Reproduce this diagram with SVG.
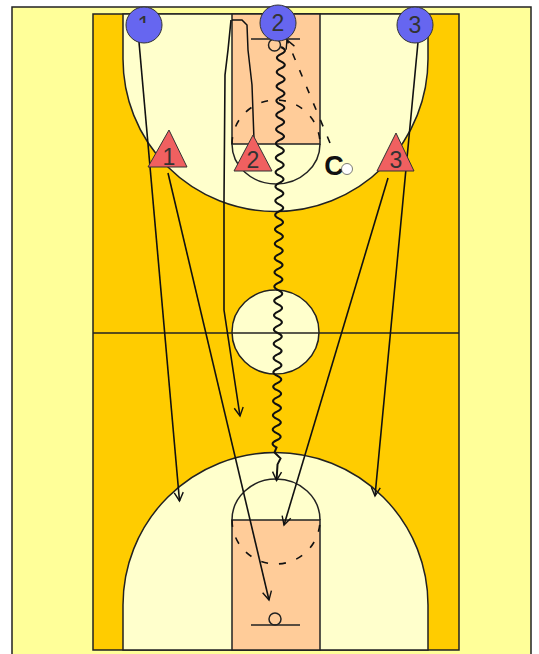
<svg xmlns="http://www.w3.org/2000/svg" width="539" height="654" viewBox="0 0 539 654">
<style>
.c{stroke:#222;stroke-width:1.5}
.l{fill:none;stroke:#222;stroke-width:1.5}
.d{fill:none;stroke:#111;stroke-width:1.6;stroke-dasharray:7 11}
.a{fill:none;stroke:#111;stroke-width:1.6;marker-end:url(#ah)}
.w{fill:none;stroke:#111;stroke-width:2;marker-end:url(#ah)}
.t{font-family:"Liberation Sans",Arial,sans-serif;font-size:23px;fill:#333;text-anchor:middle}
.p{fill:#6666f0;stroke:#333;stroke-width:1}
.x{fill:#f06060;stroke:#333;stroke-width:1}
</style>
<defs>
<marker id="ah" markerWidth="14" markerHeight="14" refX="10" refY="6" orient="auto" markerUnits="userSpaceOnUse">
<path d="M1.5 1.5L10 6L1.5 10.5" fill="none" stroke="#111" stroke-width="1.4"/>
</marker>
<clipPath id="stub"><rect x="135" y="14" width="20" height="9"/></clipPath>
</defs>
<rect width="539" height="654" fill="#fff"/>
<rect x="12" y="7" width="519" height="655" fill="#ffff99" stroke="#222" stroke-width="1.5"/>
<g id="court">
<rect class="c" x="93" y="14" width="366" height="636" fill="#ffcc00"/>
<path class="c" d="M123 14V59A152.500 152.500 0 0 0 428 59V14Z" fill="#ffffcc"/>
<path class="c" d="M123 650V605A152.500 152.500 0 0 1 428 605V650Z" fill="#ffffcc"/>
<rect class="c" x="232" y="14" width="88" height="130" fill="#ffcc99"/>
<rect class="c" x="232" y="520" width="88" height="130" fill="#ffcc99"/>
<ellipse class="c" cx="275.500" cy="332" rx="43.500" ry="42" fill="#ffffcc"/>
<path class="l" d="M93 333H459"/>
<path class="l" d="M232 144A44 40 0 0 0 320 144"/>
<path class="d" d="M232 144A44 44 0 0 1 320 144"/>
<path class="l" d="M232 520A44 41 0 0 1 320 520"/>
<path class="d" d="M232 520A44 44 0 0 0 320 520"/>
<path class="l" d="M251 39H300M251 625H300"/>
<circle class="l" cx="274.500" cy="45" r="6"/>
<circle class="l" cx="275" cy="619" r="6"/>
</g>
<g id="connectors">
<path class="a" d="M139 42L179.500 501"/>
<path class="a" d="M168 173L269 600"/>
<path class="l" style="stroke:#111" d="M232 20H242L247 25L248 50L252 85L254 140"/>
<path class="a" d="M231 20L228 50L225 75L224 200V310L240 416"/>
<path class="a" d="M418 42L375 496"/>
<path class="a" d="M388 178L284 525"/>
<path class="d" d="M330 143L287 40" marker-end="url(#ah)"/>
<path class="w" d="M281 47q8 3.580 -.08 7.150t-.08 7.150q8 3.580 -.08 7.150t-.08 7.150q8 3.580 -.08 7.150t-.08 7.150q8 3.580 -.08 7.150t-.08 7.150q8 3.580 -.08 7.150t-.08 7.150q8 3.580 -.08 7.150t-.08 7.150q8 3.580 -.08 7.150t-.08 7.150q8 3.580 -.08 7.150t-.08 7.150q8 3.580 -.08 7.150t-.08 7.150q8 3.580 -.08 7.150t-.08 7.150q8 3.580 -.08 7.150t-.08 7.150q8 3.580 -.08 7.150t-.08 7.150q8 3.580 -.08 7.150t-.08 7.150q8 3.580 -.08 7.150t-.08 7.150q8 3.580 -.08 7.150t-.08 7.150q8 3.580 -.08 7.150t-.08 7.150q8 3.580 -.08 7.150t-.08 7.150q8 3.580 -.08 7.150t-.08 7.150q8 3.580 -.08 7.150t-.08 7.150q8 3.580 -.08 7.150t-.08 7.150q8 3.580 -.08 7.150t-.08 7.150q8 3.580 -.08 7.150t-.08 7.150q8 3.580 -.08 7.150t-.08 7.150q8 3.580 -.08 7.150t-.08 7.150q8 3.580 -.08 7.150t-.08 7.150q8 3.580 -.08 7.150t-.08 7.150q8 3.580 -.08 7.150t-.08 7.150q8 3.580 -.08 7.150t-.08 7.150l-2 5l6 6l-3 6l-1 16"/>
</g>
<g id="p1"><circle class="p" cx="144" cy="25" r="18"/><text class="t" x="144" y="33" clip-path="url(#stub)">1</text></g>
<g id="p2"><circle class="p" cx="278" cy="23" r="18"/><text class="t" x="278" y="31">2</text></g>
<g id="p3"><circle class="p" cx="415" cy="25" r="18"/><text class="t" x="415" y="33">3</text></g>
<g id="x1"><path class="x" d="M169 130L187 167H148Z"/><text class="t" x="169" y="165">1</text></g>
<g id="x2"><path class="x" d="M253 135L272 171H234Z"/><text class="t" x="253" y="168">2</text></g>
<g id="x3"><path class="x" d="M396 133L414 171H377Z"/><text class="t" x="396" y="168">3</text></g>
<g id="coach"><text x="334" y="175" style="font-family:'Liberation Sans',Arial,sans-serif;font-size:27px;font-weight:bold" fill="#111" text-anchor="middle">C</text><circle cx="347" cy="169" r="5.500" fill="#fff" stroke="#444" stroke-width=".7"/></g>
</svg>
